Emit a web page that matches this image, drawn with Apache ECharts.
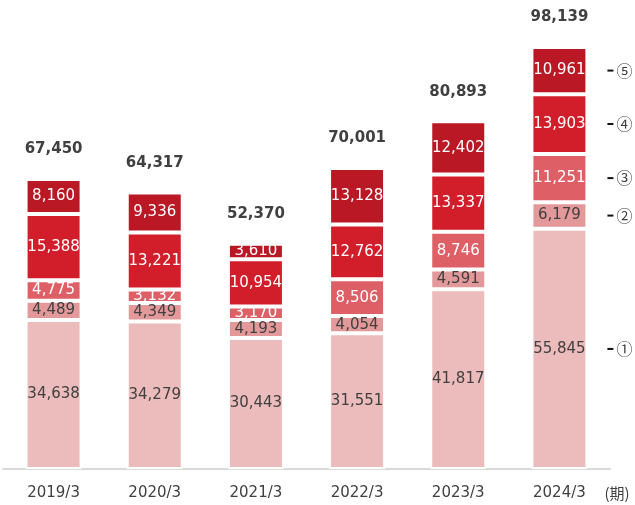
<!DOCTYPE html>
<html>
<head>
<meta charset="utf-8">
<script src="https://cdn.jsdelivr.net/npm/echarts@6/dist/echarts.min.js"></script>
<style>
  html, body { margin: 0; padding: 0; background: #fff; }
  #chart { width: 635px; height: 505px; }
</style>
</head>
<body>
<div id="chart"></div>
<script>
// data
var categories = ["2019/3", "2020/3", "2021/3", "2022/3", "2023/3", "2024/3"];
var s1 = [34638, 34279, 30443, 31551, 41817, 55845];
var s2 = [4489, 4349, 4193, 4054, 4591, 6179];
var s3 = [4775, 3132, 3170, 8506, 8746, 11251];
var s4 = [15388, 13221, 10954, 12762, 13337, 13903];
var s5 = [8160, 9336, 3610, 13128, 12402, 10961];
var totals = [67450, 64317, 52370, 70001, 80893, 98139];
var markNames = ["①", "②", "③", "④", "⑤"];

var font = "'DejaVu Sans', 'Noto Sans CJK JP', sans-serif";
var cjk = "'Noto Sans CJK JP', sans-serif";
var colors = ["#ecbbbc", "#e3989a", "#df5f66", "#d21e2a", "#b91824"];
var labelColors = ["#404040", "#404040", "#fff", "#fff", "#fff"];
var allSeries = [s1, s2, s3, s4, s5];

function fmt(v) {
  return v.toLocaleString("en-US");
}

var myChart = echarts.init(document.getElementById("chart"));

var series = allSeries.map(function (d, i) {
  return {
    type: "bar",
    stack: "total",
    barWidth: 56,
    data: d,
    itemStyle: { color: colors[i], borderColor: "#fff", borderWidth: 2 },
    label: {
      show: true,
      position: "inside",
      color: labelColors[i],
      fontFamily: font,
      fontSize: 15,
      formatter: function (p) { return fmt(p.value); }
    }
  };
});

// totals on top of the stack
series.push({
  type: "bar",
  stack: "total",
  barWidth: 56,
  data: totals.map(function () { return 0; }),
  itemStyle: { color: "transparent" },
  label: {
    show: true,
    position: "top",
    distance: 22,
    color: "#404040",
    fontFamily: font,
    fontSize: 15,
    fontWeight: "bold",
    formatter: function (p) { return fmt(totals[p.dataIndex]); }
  }
});

var option = {
  animation: false,
  grid: { left: 3, right: 25, top: 39, bottom: 36, containLabel: false },
  xAxis: {
    type: "category",
    data: categories,
    axisLine: { lineStyle: { color: "#d9d9d9", width: 2 } },
    axisTick: { show: false },
    axisLabel: { color: "#404040", fontFamily: font, fontSize: 15, margin: 17 }
  },
  yAxis: {
    type: "value",
    min: 0,
    max: 100000,
    show: false,
    splitLine: { show: false }
  },
  series: series
};

myChart.setOption(option);

// series markers to the right of the last bar
var last = categories.length - 1;
var cum = 0;
var graphics = [];
allSeries.forEach(function (d, i) {
  var mid = cum + d[last] / 2;
  cum += d[last];
  var pt = myChart.convertToPixel({ gridIndex: 0 }, [last, mid]);
  graphics.push({
    type: "rect",
    shape: { x: pt[0] + 48, y: pt[1] - 1, width: 6, height: 2 },
    style: { fill: "#111" }
  });
  graphics.push({
    type: "text",
    x: pt[0] + 57,
    y: pt[1],
    style: {
      text: markNames[i],
      fill: "#404040",
      font: "16px " + cjk,
      verticalAlign: "middle"
    }
  });
});
var axisEnd = myChart.convertToPixel({ gridIndex: 0 }, [last, 0]);
graphics.push({
  type: "text",
  x: axisEnd[0] + 45,
  y: axisEnd[1] + 24,
  style: {
    text: "(期)",
    fill: "#404040",
    font: "15px " + cjk,
    verticalAlign: "middle"
  }
});

myChart.setOption({ graphic: graphics });
</script>
</body>
</html>
